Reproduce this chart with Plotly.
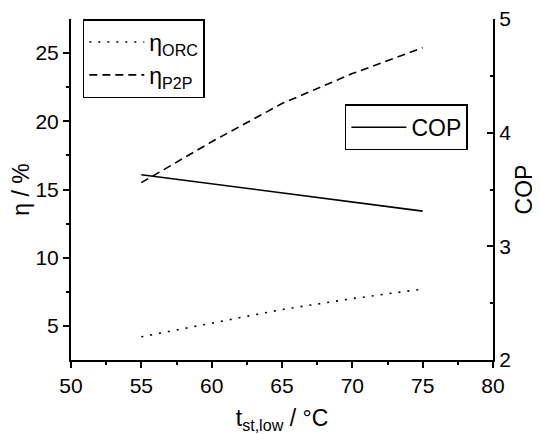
import plotly.graph_objects as go

t_low = [55, 60, 65, 70, 75]
eta_orc = [4.2, 5.2, 6.2, 7.0, 7.7]
eta_p2p = [15.5, 18.5, 21.3, 23.5, 25.4]
cop = [3.63, 3.55, 3.47, 3.39, 3.31]

FONT = "Liberation Sans, Arial, sans-serif"
TF = dict(family=FONT, size=21, color="black")
AF = dict(family=FONT, size=23, color="black")
LF = dict(family=FONT, size=23, color="black")

fig = go.Figure()
fig.add_trace(go.Scatter(x=t_low, y=eta_orc, mode="lines", name="η<sub>ORC</sub>",
                         line=dict(color="black", width=1.6, dash="2px,7px"), legend="legend"))
fig.add_trace(go.Scatter(x=t_low, y=eta_p2p, mode="lines", name="η<sub>P2P</sub>",
                         line=dict(color="black", width=1.6, dash="8px,5px"), legend="legend"))
fig.add_trace(go.Scatter(x=t_low, y=cop, mode="lines", name="COP", yaxis="y2",
                         line=dict(color="black", width=1.6), legend="legend2"))

# page body has an 8px margin, so the figure is sized 8px smaller
fig.update_layout(
    width=532, height=426,
    margin=dict(l=63, r=47, t=11, b=74),
    paper_bgcolor="white", plot_bgcolor="white",
    font=TF,
    xaxis=dict(range=[50, 80], dtick=5, showline=True, linecolor="black", linewidth=2,
               ticks="outside", ticklen=6, tickwidth=2, tickcolor="black", showgrid=False,
               zeroline=False, tickfont=TF, automargin=False, ticklabeloverflow="allow",
               minor=dict(ticks="outside", ticklen=3, tickwidth=2, dtick=2.5, tickcolor="black"),
               title=dict(text="t<sub>st,low</sub> / °C", standoff=14, font=AF)),
    yaxis=dict(range=[2.5, 27.5], tickvals=[5, 10, 15, 20, 25], showline=True, linecolor="black",
               linewidth=2, ticks="outside", ticklen=6, tickwidth=2, tickcolor="black",
               showgrid=False, zeroline=False, tickfont=TF, automargin=False,
               ticklabeloverflow="allow",
               minor=dict(ticks="outside", ticklen=3, tickwidth=2, tickvals=[7.5, 12.5, 17.5, 22.5], tickcolor="black"),
               title=dict(text="η / %", standoff=8, font=AF)),
    yaxis2=dict(range=[2, 5], dtick=1, overlaying="y", side="right", showline=True,
                linecolor="black", linewidth=2, ticks="inside", ticklen=6, tickwidth=2,
                tickcolor="black", showgrid=False, zeroline=False, tickfont=TF, automargin=False,
                ticklabeloverflow="allow",
                minor=dict(ticks="inside", ticklen=3, tickwidth=2, dtick=0.5, tickcolor="black"),
                title=dict(text="COP", standoff=6, font=AF)),
    legend=dict(x=0.028, y=1.0, xanchor="left", yanchor="top", bordercolor="black",
                borderwidth=1.5, bgcolor="white", font=LF, tracegroupgap=0,
                itemwidth=55),
    legend2=dict(x=0.649, y=0.75, xanchor="left", yanchor="top", bordercolor="black",
                 borderwidth=1.5, bgcolor="white", font=LF, itemwidth=55),
)

fig.write_html("out.html")
